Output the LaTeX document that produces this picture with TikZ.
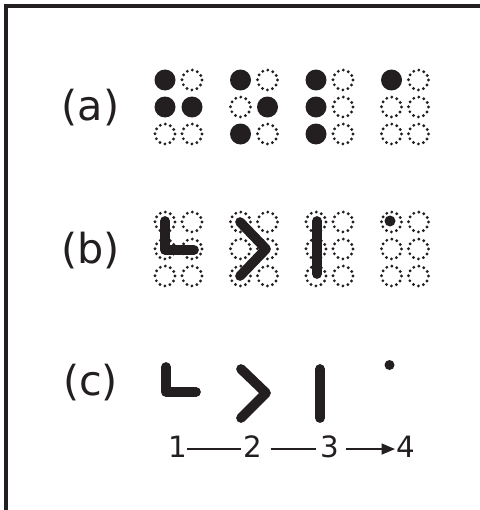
\documentclass[tikz,border=0pt]{standalone}
\usepackage{fontspec}
\setmainfont{DejaVu Sans}
\usetikzlibrary{arrows.meta}
\definecolor{ink}{HTML}{231F20}
\tikzset{
  fulldot/.style={fill=ink, draw=none},
  hollowdot/.style={draw=ink, line width=2.4pt, line cap=round, dash pattern=on 0pt off 3.93pt},
  glyph/.style={draw=ink, line width=7.3pt, line cap=round, line join=round},
  lbl/.style={text=ink, font=\fontsize{31}{31}\selectfont, inner sep=0pt},
  num/.style={text=ink, font=\fontsize{22}{22}\selectfont, inner sep=0pt},
  link/.style={draw=ink, line width=1.6pt}
}
\begin{document}
\begin{tikzpicture}[x=0.75pt,y=-0.75pt]
\useasboundingbox (0,0) rectangle (479,510);
% frame
\draw[ink, line width=3pt] (6,520) -- (6,6) -- (490,6);
% labels
\node[lbl] (la) at (90.5,108) {(a)};
\node[lbl] (lb) at (90.5,251) {(b)};
\node[lbl] (lc) at (90.5,383) {(c)};
% (a) braille cells
\foreach \cx/\p in {165/{1,0,1,1,0,0}, 240.5/{1,0,0,1,1,0}, 316/{1,0,1,0,1,0}, 391.5/{1,0,0,0,0,0}}{
  \foreach \v [count=\i] in \p {
    \pgfmathtruncatemacro{\row}{int((\i-1)/2)}
    \pgfmathtruncatemacro{\col}{mod(\i-1,2)}
    \pgfmathsetmacro{\xx}{\cx+27*\col}
    \pgfmathsetmacro{\yy}{80+27*\row}
    \ifnum\v=1
      \fill[fulldot] (\xx,\yy) circle[radius=10.5];
    \else
      \draw[hollowdot] (\xx,\yy) circle[radius=10];
    \fi
  }
}
% (b) empty cells
\foreach \cx in {165,240.5,316,391.5}{
  \foreach \col in {0,1}{
    \foreach \row in {0,1,2}{
      \draw[hollowdot] (\cx+27*\col,222+27*\row) circle[radius=10];
    }
  }
}
% (b) strokes
\draw[glyph] (165,221) -- (165,250) -- (194,250);
\draw[glyph] (240,222) -- (266,249) -- (240,276);
\draw[glyph] (317,221) -- (317,274);
\fill[fulldot] (390,221) circle[radius=5.5];
% (c) strokes
\draw[glyph] (166,367) -- (166,392) -- (196,392);
\draw[glyph] (241,369) -- (266,393) -- (241,418);
\draw[glyph] (320,369) -- (320,418);
\fill[fulldot] (389.5,365) circle[radius=5];
% order numbers
\node[num] (n1) at (177.5,446.5) {1};
\node[num] (n2) at (253,446.5) {2};
\node[num] (n3) at (330,446.5) {3};
\node[num] (n4) at (406,446.5) {4};
\draw[link] ([yshift=-1.9pt]n1.east) -- ([yshift=-1.9pt,xshift=-2pt]n2.west);
\draw[link] ([yshift=-1.9pt,xshift=6pt]n2.east) -- ([yshift=-1.9pt,xshift=-3pt]n3.west);
\draw[link, -{Triangle[length=10pt,width=8pt]}] ([yshift=-1.9pt,xshift=4.5pt]n3.east) -- ([yshift=-1.9pt,xshift=-1pt]n4.west);
\end{tikzpicture}
\end{document}
